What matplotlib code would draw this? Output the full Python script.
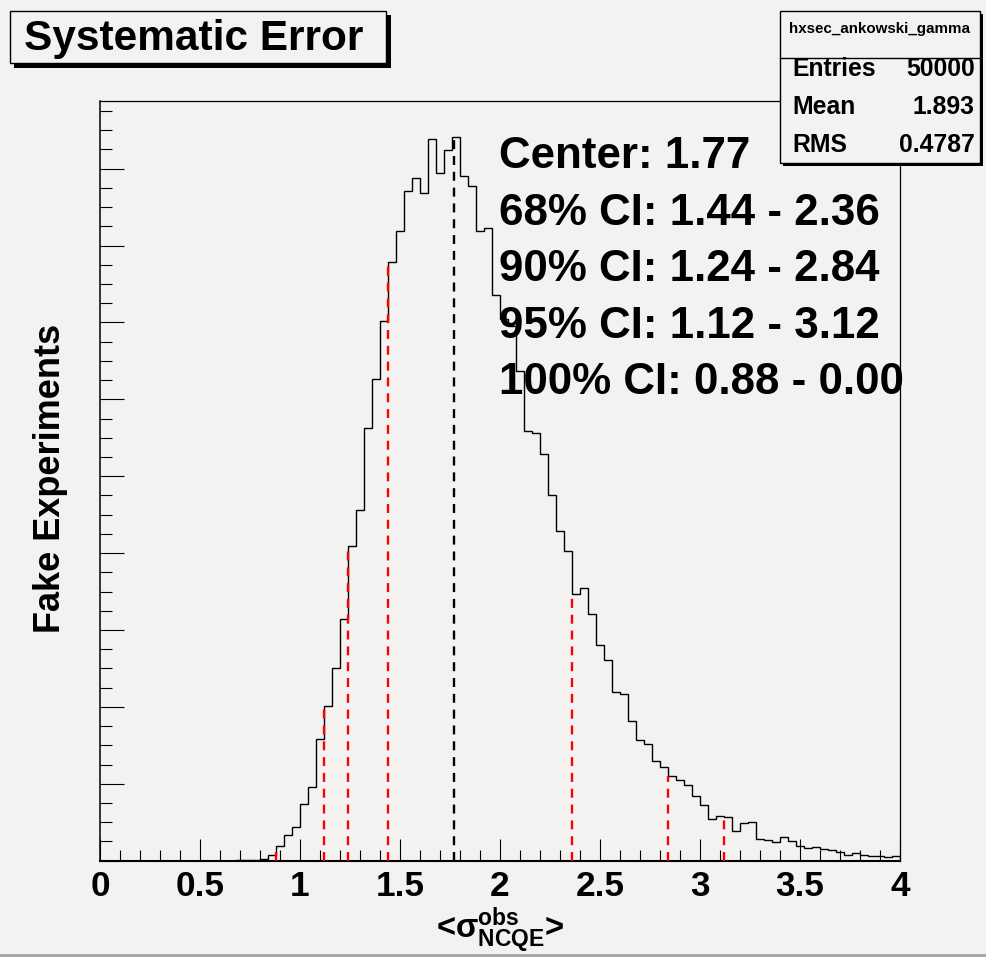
import numpy as np
import matplotlib
matplotlib.use("Agg")
import matplotlib.pyplot as plt
from matplotlib.patches import Rectangle
from matplotlib.ticker import MultipleLocator, FuncFormatter

# ---------------- data ----------------
x_range = (0.0, 4.0)
n_bins = 100
counts = [0] * 17 + [
    1, 1, 3, 5, 15, 38, 68, 88,
    148, 192, 316, 403, 500, 628, 819, 913, 1126, 1252,
    1404, 1557, 1639, 1742, 1776, 1736, 1877, 1788, 1849, 1882,
    1782, 1755, 1637, 1645, 1472, 1409, 1391, 1274, 1118, 1112,
    1058, 952, 857, 805, 694, 709, 641, 560, 521, 439,
    434, 363, 313, 303, 259, 244, 221, 209, 196, 169,
    144, 108, 117, 113, 78, 99, 100, 57, 55, 48,
    62, 51, 38, 33, 36, 31, 29, 23, 16, 21, 14, 13, 12, 10, 13,
]
center = 1.77
ci_levels = ["68%", "90%", "95%", "100%"]
ci_low = [1.44, 1.24, 1.12, 0.88]
ci_high = [2.36, 2.84, 3.12, 0.00]

title = "Systematic Error"
hist_name = "hxsec_ankowski_gamma"
stat_labels = ["Entries", "Mean", "RMS"]
stat_values = ["50000", "1.893", "0.4787"]
x_ticks = [0, 0.5, 1, 1.5, 2, 2.5, 3, 3.5, 4]
x_label = r"<$\mathsf{\sigma}^{obs}_{NCQE}$>"
y_label = "Fake Experiments"

# ---------------- style ----------------
plt.rcParams["font.family"] = ["Liberation Sans", "DejaVu Sans"]
plt.rcParams["font.weight"] = "bold"
plt.rcParams["mathtext.fontset"] = "custom"
plt.rcParams["mathtext.rm"] = "Liberation Sans:bold"
plt.rcParams["mathtext.it"] = "Liberation Sans:bold"
plt.rcParams["mathtext.bf"] = "Liberation Sans:bold"
plt.rcParams["mathtext.sf"] = "Liberation Sans"
plt.rcParams["mathtext.default"] = "rm"

BG = "#f2f2f2"
W, H = 987, 957
fig = plt.figure(figsize=(W / 100, H / 100), dpi=100, facecolor=BG)


def fx(x):
    return x / W


def fy(y):
    return 1 - y / H


ax = fig.add_axes([fx(100), fy(860.7), 800 / W, 759.7 / H])
ax.set_facecolor(BG)

edges = np.linspace(x_range[0], x_range[1], n_bins + 1)
counts_arr = np.asarray(counts, dtype=float)
ax.stairs(counts_arr, edges, color="black", lw=1.0, baseline=0)

ax.set_xlim(*x_range)
ax.set_ylim(0, 1.05 * counts_arr.max())


def bin_height(x):
    i = int(np.searchsorted(edges, x + 1e-9, side="right") - 1)
    i = min(max(i, 0), n_bins - 1)
    return counts_arr[i]


dash = (0, (3.8, 2.9))
for v in ci_low + ci_high:
    ax.plot([v, v], [0, bin_height(v)], color="#ff0000", lw=1.7, linestyle=dash,
            solid_capstyle="butt", dash_capstyle="butt", zorder=3)
ax.plot([center, center], [0, bin_height(center)], color="black", lw=1.7,
        linestyle=dash, dash_capstyle="butt", zorder=3)

# ticks
ax.set_xticks(x_ticks)
ax.xaxis.set_minor_locator(MultipleLocator(0.1))
ax.xaxis.set_major_formatter(FuncFormatter(lambda v, p: f"{v:g}"))
ax.yaxis.set_major_locator(MultipleLocator(200))
ax.yaxis.set_minor_locator(MultipleLocator(50))
ax.tick_params(axis="x", which="major", direction="in", length=15.8, width=0.8,
               labelsize=25.4, pad=7, top=False)
ax.tick_params(axis="x", which="minor", direction="in", length=7.9, width=0.8, top=False)
ax.tick_params(axis="y", which="major", direction="in", length=17.3, width=0.8,
               labelleft=False, right=False)
ax.tick_params(axis="y", which="minor", direction="in", length=8.6, width=0.8, right=False)
for s in ["top", "right"]:
    ax.spines[s].set_linewidth(0.9)
ax.spines["left"].set_linewidth(1.1)
ax.spines["bottom"].set_linewidth(1.5)

# axis labels
fig.text(fx(500), fy(930), x_label, ha="center", va="center", fontsize=23.5,
         fontweight="bold")
fig.text(fx(51), fy(478), y_label, ha="center", va="center", rotation=90,
         fontsize=26, fontweight="bold")

# CI text
lines = [f"Center: {center:.2f}"] + [
    f"{lvl} CI: {lo:.2f} - {hi:.2f}" for lvl, lo, hi in zip(ci_levels, ci_low, ci_high)
]
for k, t in enumerate(lines):
    fig.text(fx(499), fy(168 + 56.6 * k), t, ha="left", va="baseline",
             fontsize=31.6, fontweight="bold", zorder=5)


def box(x0, y0, x1, y1, shadow, lw=1.0):
    fig.add_artist(Rectangle((fx(x0 + shadow), fy(y1 + shadow)), (x1 - x0) / W,
                             (y1 - y0) / H, transform=fig.transFigure,
                             facecolor="black", edgecolor="black", lw=0, zorder=6))
    fig.add_artist(Rectangle((fx(x0), fy(y1)), (x1 - x0) / W, (y1 - y0) / H,
                             transform=fig.transFigure, facecolor=BG,
                             edgecolor="black", lw=lw, zorder=7))


# title box
box(9.5, 10.7, 386.5, 63.3, 4.5)
fig.text(fx(194), fy(50), title, ha="center", va="baseline", fontsize=30.5,
         fontweight="bold", zorder=8)

# stats box
box(780, 10.7, 980, 162.7, 3.5)
fig.add_artist(plt.Line2D([fx(780), fx(980)], [fy(57.7), fy(57.7)],
                          transform=fig.transFigure, color="black", lw=1.0, zorder=8))
fig.text(fx(880), fy(33.5), hist_name, ha="center", va="baseline", fontsize=10.9,
         fontweight="bold", zorder=8)
for k, (lab, val) in enumerate(zip(stat_labels, stat_values)):
    yb = 76 + 38 * k
    fig.text(fx(792), fy(yb), lab, ha="left", va="baseline", fontsize=17.8,
             fontweight="bold", zorder=8)
    fig.text(fx(975), fy(yb), val, ha="right", va="baseline", fontsize=17.8,
             fontweight="bold", zorder=8)

# bottom canvas edge
fig.add_artist(Rectangle((0, 0), 1, 3 / H, transform=fig.transFigure,
                         facecolor="#a8a8a8", edgecolor="none", zorder=9))

fig.savefig("out.png", dpi=100, facecolor=BG)
